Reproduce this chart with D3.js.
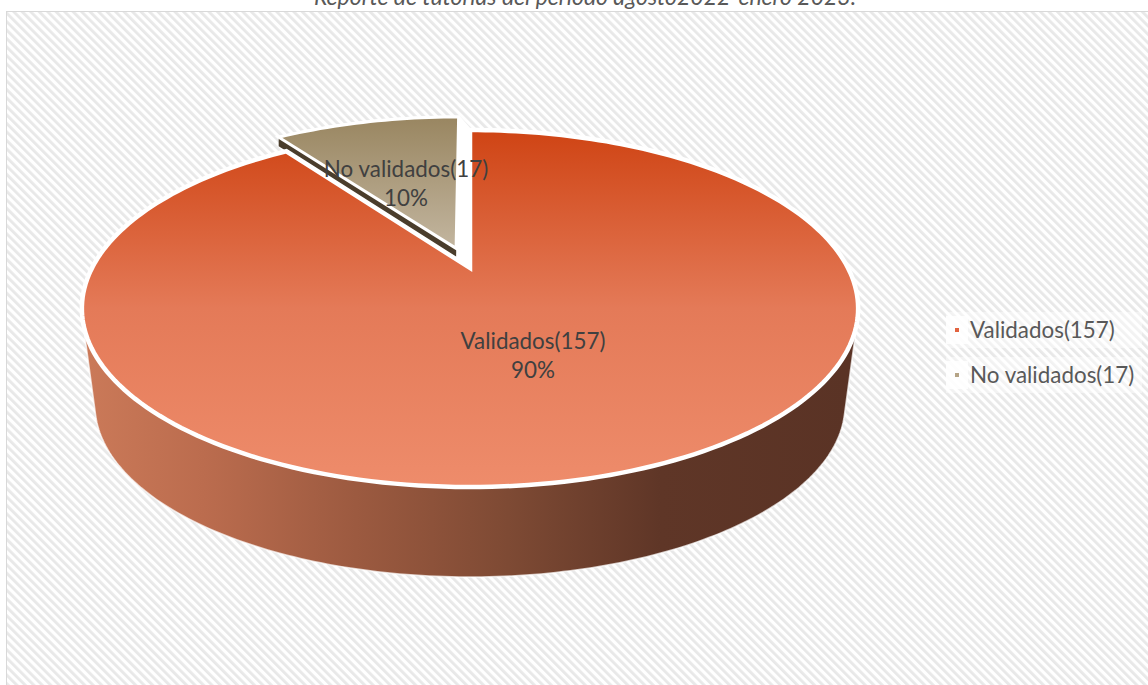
<!DOCTYPE html>
<html>
<head>
<meta charset="utf-8">
<script src="https://cdn.jsdelivr.net/npm/d3@7"></script>
<style>
  html, body { margin: 0; padding: 0; background: #fff; overflow: hidden; }
  svg { display: block; font-family: Lato, "Open Sans", sans-serif; }
</style>
</head>
<body>
<div id="chart"></div>
<script>
const TITLE = "Reporte de tutorías del periodo agosto2022-enero 2023.";
const categories = ["Validados(157)", "No validados(17)"];
const values = [157, 17];
const percentLabels = ["90%", "10%"];
const explode = [0, 0.125];

const width = 1148, height = 685;

const svg = d3.select("#chart").append("svg")
  .attr("width", width)
  .attr("height", height);

const defs = svg.append("defs");

// Hatched chart area
const hatch = defs.append("pattern")
  .attr("id", "hatch")
  .attr("patternUnits", "userSpaceOnUse")
  .attr("width", 6).attr("height", 6)
  .attr("patternTransform", "rotate(-45)");
hatch.append("rect").attr("width", 6).attr("height", 6).attr("fill", "#fff");
hatch.append("rect").attr("width", 2.8).attr("height", 6).attr("fill", "#e8e8e8");

function addGradient(id, y1, y2, stops) {
  const g = defs.append("linearGradient")
    .attr("id", id)
    .attr("gradientUnits", "userSpaceOnUse")
    .attr("x1", 0).attr("x2", 0)
    .attr("y1", y1).attr("y2", y2);
  stops.forEach((s) => g.append("stop").attr("offset", s[0]).attr("stop-color", s[1]));
}
addGradient("top-red", 130, 487, [[0, "#cf4414"], [0.5, "#e47a58"], [1, "#ee8c6b"]]);
addGradient("top-tan", 120, 250, [[0, "#9a8762"], [1, "#c3b6a0"]]);

const wallGrad = defs.append("linearGradient")
  .attr("id", "wall-red")
  .attr("gradientUnits", "userSpaceOnUse")
  .attr("x1", 90).attr("x2", 850)
  .attr("y1", 0).attr("y2", 0);
[[0, "#ca7958"], [0.15, "#bb6c4e"], [0.35, "#9c5a40"], [0.55, "#7e4a34"], [0.75, "#5f3627"], [1, "#5a3325"]]
  .forEach((s) => wallGrad.append("stop").attr("offset", s[0]).attr("stop-color", s[1]));

// Plot frame
svg.append("rect")
  .attr("x", 6.5).attr("y", 11.5)
  .attr("width", width).attr("height", height)
  .attr("fill", "url(#hatch)")
  .attr("stroke", "#d9d9d9");

svg.append("text")
  .attr("x", 585).attr("y", 5)
  .attr("text-anchor", "middle")
  .attr("font-style", "italic")
  .attr("font-size", "23px")
  .attr("fill", "#595959")
  .text(TITLE);

// Perspective projection of the pie disc, u/v in unit circle coordinates
const cx = 470, cy = 268;
const k = 0.227, scaleX = 378, scaleY = 169.3;
const project = (u, v) => [
  cx + scaleX * u / (1 - k * v),
  cy + scaleY * v / (1 - k * v),
];

const pie = d3.pie().sort(null).startAngle(0).endAngle(2 * Math.PI);
const slices = pie(values);
const line = d3.line();

function slicePoints(d, i) {
  const mid = (d.startAngle + d.endAngle) / 2;
  const e = explode[i];
  const du = e * Math.sin(mid), dv = -e * Math.cos(mid);
  const steps = Math.max(2, Math.round((d.endAngle - d.startAngle) * 40));
  const rim = d3.range(steps + 1).map((s) => {
    const a = d.startAngle + (d.endAngle - d.startAngle) * s / steps;
    return project(du + Math.sin(a), dv - Math.cos(a));
  });
  return [project(du, dv), ...rim];
}

// Side wall: lower half of the top rim joined to the smaller bottom ellipse
const bottomEllipse = { cx: 470, cy: 405, rx: 375, ry: 172 };
const wallPts = d3.range(0, 2 * Math.PI, 0.02).flatMap((a) => {
  const pts = [[bottomEllipse.cx + bottomEllipse.rx * Math.cos(a), bottomEllipse.cy + bottomEllipse.ry * Math.sin(a)]];
  if (Math.cos(a) >= 0.1) pts.push(project(Math.sin(a), Math.cos(a)));
  return pts;
});
svg.append("path")
  .attr("d", line(d3.polygonHull(wallPts)) + "Z")
  .attr("fill", "url(#wall-red)")
  .attr("stroke", "#fff")
  .attr("stroke-opacity", 0.7)
  .attr("stroke-width", 1.5);

// White gap where the exploded slice was pulled out of the disc
svg.append("path")
  .attr("d", line(d3.polygonHull([...slicePoints(slices[1], 0), ...slicePoints(slices[1], 1)])) + "Z")
  .attr("fill", "#fff")
  .attr("stroke", "#fff")
  .attr("stroke-width", 3);

// Exploded slice wall
const tanPts = slicePoints(slices[1], 1);
const tanWall = d3.polygonHull([...tanPts, ...tanPts.map((p) => [p[0], p[1] + 9])]);
svg.append("path")
  .attr("d", line(tanWall) + "Z")
  .attr("fill", "#4a3d2c");

svg.selectAll(".slice")
  .data(slices)
  .join("path")
  .attr("class", "slice")
  .attr("d", (d, i) => line(slicePoints(d, i)) + "Z")
  .attr("fill", (d, i) => i === 0 ? "url(#top-red)" : "url(#top-tan)")
  .attr("stroke", "#fff")
  .attr("stroke-width", (d, i) => i === 0 ? 4.5 : 3)
  .attr("stroke-linejoin", "miter");

// Data labels
const labelPos = [[533, 341], [406, 169]];
categories.forEach((c, i) => {
  const t = svg.append("text")
    .attr("text-anchor", "middle")
    .attr("font-size", "22.4px")
    .attr("fill", "#404040");
  t.append("tspan").attr("x", labelPos[i][0]).attr("y", labelPos[i][1] + 8).text(c);
  t.append("tspan").attr("x", labelPos[i][0]).attr("y", labelPos[i][1] + 37).text(percentLabels[i]);
});

// Legend
const legendColors = ["#e2633f", "#b5a486"];
const legend = svg.selectAll(".legend")
  .data(categories)
  .join("g")
  .attr("class", "legend")
  .attr("transform", (d, i) => `translate(946,${330 + i * 45})`);
legend.append("rect")
  .attr("x", 0).attr("y", -18)
  .attr("width", 196).attr("height", 36)
  .attr("fill", "#fff").attr("fill-opacity", 0.45);
legend.append("rect")
  .attr("x", 0).attr("y", -14)
  .attr("width", 22).attr("height", 28)
  .attr("fill", "#fff").attr("fill-opacity", 0.8);
legend.append("rect")
  .attr("x", 9).attr("y", -2)
  .attr("width", 4).attr("height", 4)
  .attr("fill", (d, i) => legendColors[i]);
legend.append("text")
  .attr("x", 24).attr("y", 8)
  .attr("font-size", "22.4px")
  .attr("fill", "#595959")
  .text((d) => d);
</script>
</body>
</html>
